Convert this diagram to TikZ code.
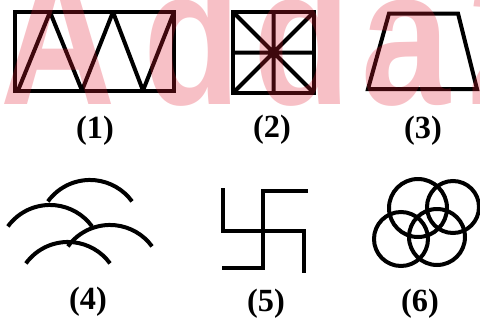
\documentclass[tikz,border=0pt]{standalone}
\usepackage{fontspec}
\setmainfont{Liberation Serif}
\newfontfamily\wmfont{Liberation Sans}
\usepackage{graphicx}
\usepackage{tikz}
\usepackage{xcolor}
\definecolor{wmred}{HTML}{E11E32}

\begin{document}
\begin{tikzpicture}[x=0.5mm, y=-0.5mm,
  fig/.style={line width=2mm},
  lbl/.style={font=\fontsize{46}{48}\selectfont\bfseries, inner sep=0pt},
  wm/.style={font=\wmfont\bfseries\fontsize{277}{277}\selectfont, text=wmred,
    opacity=0.28, anchor=base, inner sep=0pt}]
  \useasboundingbox (0,0) rectangle (480,325);
  % (1) box with zigzag
  \draw[fig] (15,12) rectangle (174,90.5);
  \draw[fig, line join=bevel] (18,90.5) -- (50,12) -- (82,90.5) -- (113,12) -- (143,90.5) -- (174,12);
  \node[lbl] (l1) at (95,131) {(1)};
  % (2) square with star
  \draw[fig] (233,12) rectangle (314,93);
  \draw[fig] (233,12) -- (314,93) (314,12) -- (233,93)
    (273.5,12) -- (273.5,93) (233,52.5) -- (314,52.5);
  \node[lbl] (l2) at (272,130) {(2)};
  % (3) trapezium
  \draw[fig] (389,13.5) -- (458,13.5) -- (477,89) -- (368,89) -- cycle;
  \node[lbl] (l3) at (423,131) {(3)};
  % (4) arcs
  \draw[fig] (47.9,201.4) arc[start angle=-144, end angle=-36, radius=52];
  \draw[fig] (7.9,226.4) arc[start angle=-144, end angle=-36, radius=52];
  \draw[fig] (67.9,246.4) arc[start angle=-144, end angle=-36, radius=52];
  \draw[fig] (25.9,263.4) arc[start angle=-144, end angle=-36, radius=52];
  \node[lbl] (l4) at (88,302) {(4)};
  % (5) hooked cross
  \draw[fig] (223,188) -- (223,231) -- (304,231) -- (304,273);
  \draw[fig] (308,191) -- (263,191) -- (263,268) -- (222,268);
  \node[lbl] (l5) at (266,304) {(5)};
  % (6) rings
  \draw[fig] (418,208) circle (29);
  \draw[fig] (453,207) circle (26);
  \draw[fig] (401,239) circle (27);
  \draw[fig] (437,237) circle (28);
  \node[lbl] (l6) at (420,304) {(6)};
  % watermark
  \begin{scope}
    \clip (0,0) rectangle (480,325);
    \node[wm] (wmA) at (58,104) {\scalebox{0.82}[1]{A}};
    \node[wm] (wmd) at (192,104) {\scalebox{0.82}[1]{d}};
    \node[wm] (wmdd) at (302,104) {\scalebox{0.82}[1]{d}};
    \node[wm] (wma) at (406,104) {\scalebox{0.82}[1]{a}};
    \node[wm] (wmtwo) at (512,104) {\scalebox{0.82}[1]{2}};
  \end{scope}
\end{tikzpicture}
\end{document}
